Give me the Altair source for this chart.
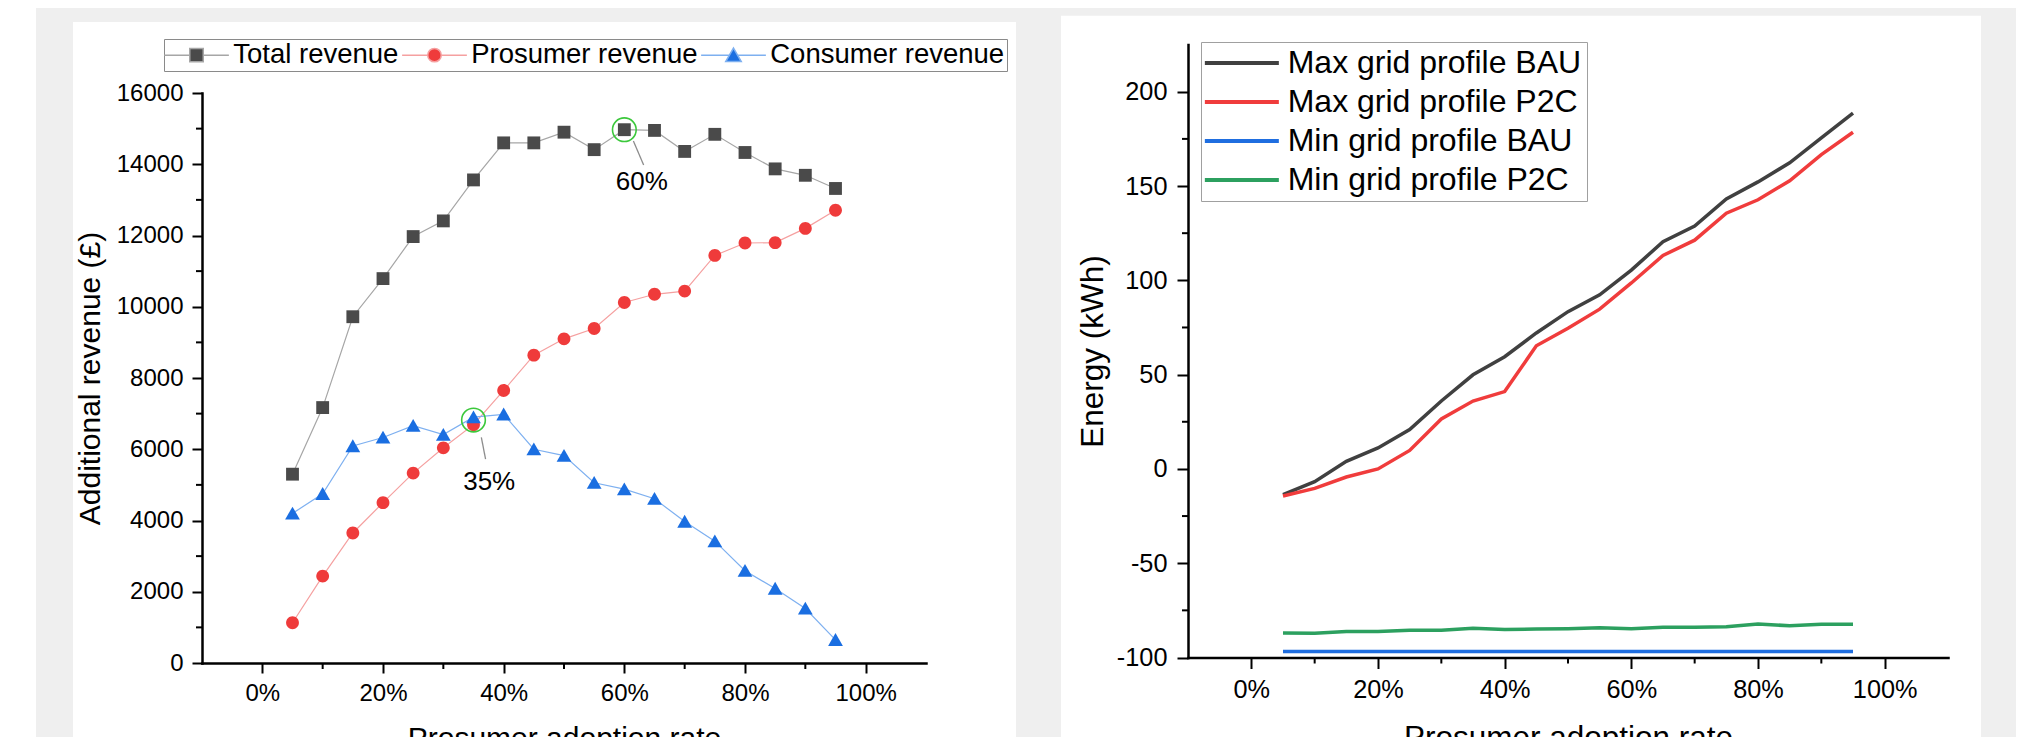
import altair as alt
import pandas as pd

FONT = "Liberation Sans"

# ---------------- data ----------------
adoption = [5, 10, 15, 20, 25, 30, 35, 40, 45, 50, 55, 60, 65, 70, 75, 80, 85, 90, 95]

series_names = ["Total revenue", "Prosumer revenue", "Consumer revenue"]
total_revenue = [5300, 7170, 9720, 10790, 11970, 12410, 13560, 14600, 14600, 14900,
                 14410, 14970, 14950, 14360, 14840, 14330, 13870, 13690, 13320]
prosumer_revenue = [1130, 2440, 3650, 4500, 5330, 6040, 6690, 7650, 8640, 9100,
                    9390, 10120, 10350, 10440, 11440, 11790, 11800, 12200, 12710]
consumer_revenue = [4200, 4750, 6090, 6330, 6660, 6410, 6900, 6980, 6000, 5820,
                    5060, 4880, 4610, 3970, 3420, 2590, 2090, 1530, 650]

profile_names = ["Max grid profile BAU", "Max grid profile P2C",
                 "Min grid profile BAU", "Min grid profile P2C"]
max_bau = [-13.6, -6.8, 4.0, 11.1, 20.9, 36.0, 49.9, 59.5, 72.1, 83.4,
           92.3, 105.4, 120.5, 128.8, 143.2, 152.2, 162.3, 175.5, 188.6]
max_p2c = [-14.4, -10.3, -4.3, 0.0, 9.8, 26.5, 36.0, 41.0, 65.3, 74.6,
           84.7, 98.6, 113.2, 121.3, 135.6, 142.7, 152.8, 166.7, 178.5]
min_bau = [-96.8, -96.8, -96.8, -96.8, -96.8, -96.8, -96.8, -96.8, -96.8, -96.8,
           -96.8, -96.8, -96.8, -96.8, -96.8, -96.8, -96.8, -96.8, -96.8]
min_p2c = [-87.0, -87.2, -86.2, -86.2, -85.5, -85.5, -84.5, -85.2, -84.9, -84.7,
           -84.2, -84.7, -84.0, -84.0, -83.7, -82.2, -83.2, -82.4, -82.4]

# annotations (left chart)
ann_circle_x = [60, 35]
ann_circle_y = [14970, 6820]
ann_lead_x1 = [61.5, 36.3]
ann_lead_y1 = [14650, 6335]
ann_lead_x2 = [63.2, 37.0]
ann_lead_y2 = [13980, 5720]
ann_text = ["60%", "35%"]
ann_text_x = [62.9, 37.6]
ann_text_y = [13500, 5090]

# axis tick values
x_major = [0, 20, 40, 60, 80, 100]
x_minor = [10, 30, 50, 70, 90]
yl_major = [0, 2000, 4000, 6000, 8000, 10000, 12000, 14000, 16000]
yl_minor = [1000, 3000, 5000, 7000, 9000, 11000, 13000, 15000]
yr_major = [-100, -50, 0, 50, 100, 150, 200]
yr_minor = [-75, -25, 25, 75, 125, 175]

# ---------------- styles ----------------
marker_colors = ["#4a4a4a", "#ef3b3b", "#1a6ee1"]
line_colors = ["#a6a6a6", "#f5a0a0", "#7eb0f0"]
marker_paths = [
    "M-1,-1H1V1H-1Z",
    "M1,0A1,1,0,1,1,-1,0A1,1,0,1,1,1,0Z",
    "M0,-1.05L1.15,0.95L-1.15,0.95Z",
]
legend_paths = [
    "M-4.8,0H-1M1,0H4.8M-1,-1H1V1H-1Z",
    "M-4.8,0H-1M1,0H4.8M1,0A1,1,0,1,1,-1,0A1,1,0,1,1,1,0Z",
    "M-4.8,0H-0.6M0.6,0H4.8M0,-1.05L1.15,0.95L-1.15,0.95Z",
]
profile_colors = ["#404040", "#f03c3c", "#1f6ee0", "#2ca05f"]

W, H = 2008, 729

rev_df = pd.DataFrame(
    [{"rate": a, "value": v, "series": n}
     for n, vals in zip(series_names, [total_revenue, prosumer_revenue, consumer_revenue])
     for a, v in zip(adoption, vals)]
)
grid_df = pd.DataFrame(
    [{"rate": a, "energy": v, "profile": n}
     for n, vals in zip(profile_names, [max_bau, max_p2c, min_bau, min_p2c])
     for a, v in zip(adoption, vals)]
)
circ_df = pd.DataFrame({"cx": ann_circle_x, "cy": ann_circle_y})
lead_df = pd.DataFrame({"x1": ann_lead_x1, "y1": ann_lead_y1, "x2": ann_lead_x2, "y2": ann_lead_y2})
text_df = pd.DataFrame({"tx": ann_text_x, "ty": ann_text_y, "t": ann_text})


# ---------------- scales (pixel ranges place the two panels) ----------------
def xl():
    return alt.Scale(domain=[-10, 110], range=[194, 918], nice=False, zero=False)


def yl():
    return alt.Scale(domain=[0, 16000], range=[655, 85], nice=False, zero=False)


def xr():
    return alt.Scale(domain=[-10, 110], range=[1180, 1940], nice=False, zero=False)


def yr():
    return alt.Scale(domain=[-100, 225], range=[649.5, 36.6], nice=False, zero=False)


common_axis = dict(
    grid=False, domainColor="black", domainWidth=2.5, domainCap="square",
    tickColor="black", tickWidth=2, labelColor="black", labelFont=FONT,
    labelFlush=False, labelOverlap=False, titleFont=FONT, titleColor="black",
    titleFontWeight="normal", zindex=2,
)

x_axis_left = alt.Axis(
    orient="bottom", offset=-74, values=x_major, labelExpr="datum.value + '%'",
    tickSize=10, labelFontSize=24, labelPadding=8,
    title="Prosumer adoption rate", titleFontSize=30, titleBaseline="top", titleY=60,
    **common_axis)
y_axis_left = alt.Axis(
    orient="left", offset=-194, values=yl_major, labelExpr="datum.value + ''",
    tickSize=10, labelFontSize=24, labelPadding=9,
    title="Additional revenue (£)", titleFontSize=30, titleX=-97,
    **common_axis)
x_axis_right = alt.Axis(
    orient="bottom", offset=-79.5, values=x_major, labelExpr="datum.value + '%'",
    tickSize=11, labelFontSize=25.3, labelPadding=8.5,
    title="Prosumer adoption rate", titleFontSize=31.5, titleBaseline="top", titleY=64.5,
    **common_axis)
y_axis_right = alt.Axis(
    orient="left", offset=-1180, values=yr_major, labelExpr="datum.value + ''",
    tickSize=11, labelFontSize=25.3, labelPadding=10,
    title="Energy (kWh)", titleFontSize=31.5, titleX=-79,
    **common_axis)

left_legend = alt.Legend(
    title=None, orient="none", legendX=156, legendY=31, direction="horizontal",
    labelFont=FONT, labelFontSize=27.5, labelColor="black", labelLimit=600,
    symbolOffset=16.75, labelOffset=23,
    symbolSize=182, symbolStrokeWidth=1.5, symbolOpacity=1, columnPadding=0, padding=2,
    strokeColor="#8a8a8a", fillColor="white", zindex=2,
)
right_legend = alt.Legend(
    title=None, orient="none", legendX=1193, legendY=34, direction="vertical",
    labelFont=FONT, labelFontSize=32, labelColor="black", labelLimit=600,
    symbolOffset=19.85, labelOffset=29.85,
    symbolType="M-3.7,0H3.7", symbolSize=400, symbolStrokeWidth=4, symbolOpacity=1,
    rowPadding=7, padding=5, strokeColor="#a0a0a0", fillColor="white", zindex=2,
)

# ---------------- background panels ----------------
one = pd.DataFrame({"k": [0]})
bg_strip = alt.Chart(one).mark_rect(color="white").encode(
    x=alt.value(0), x2=alt.value(28), y=alt.value(0), y2=alt.value(H))
bg_left = alt.Chart(one).mark_rect(color="white").encode(
    x=alt.value(65), x2=alt.value(1008), y=alt.value(14), y2=alt.value(H))
bg_right = alt.Chart(one).mark_rect(color="white").encode(
    x=alt.value(1053), x2=alt.value(1973), y=alt.value(7.7), y2=alt.value(H))

# ---------------- left chart ----------------
lines_l = alt.Chart(rev_df).mark_line(strokeWidth=1.2).encode(
    x=alt.X("rate:Q", scale=xl(), axis=x_axis_left),
    y=alt.Y("value:Q", scale=yl(), axis=y_axis_left),
    stroke=alt.Stroke("series:N", scale=alt.Scale(domain=series_names, range=line_colors), legend=None),
)
pts_l = alt.Chart(rev_df).mark_point(filled=True, opacity=1, size=165).encode(
    x=alt.X("rate:Q", scale=xl(), axis=None),
    y=alt.Y("value:Q", scale=yl(), axis=None),
    color=alt.Color("series:N", scale=alt.Scale(domain=series_names, range=marker_colors), legend=None),
    shape=alt.Shape("series:N", scale=alt.Scale(domain=series_names, range=marker_paths), legend=None),
)
# legend carrier: no marks drawn, only the line+symbol legend
legend_l = alt.Chart(rev_df).transform_filter("false").mark_point(
    filled=True, opacity=1, size=182, strokeWidth=1.5).encode(
    color=alt.Color("series:N", scale=alt.Scale(domain=series_names, range=marker_colors), legend=left_legend),
    shape=alt.Shape("series:N", scale=alt.Scale(domain=series_names, range=legend_paths), legend=left_legend),
    stroke=alt.Stroke("series:N", scale=alt.Scale(domain=series_names, range=line_colors), legend=left_legend),
)
circ_l = alt.Chart(circ_df).mark_point(shape="circle", filled=False, opacity=1, size=560,
                                      stroke="#3cc83c", strokeWidth=1.6).encode(
    x=alt.X("cx:Q", scale=xl(), axis=None), y=alt.Y("cy:Q", scale=yl(), axis=None))
lead_l = alt.Chart(lead_df).mark_rule(color="#8c8c8c", strokeWidth=1.3).encode(
    x=alt.X("x1:Q", scale=xl(), axis=None), y=alt.Y("y1:Q", scale=yl(), axis=None),
    x2="x2:Q", y2="y2:Q")
text_l = alt.Chart(text_df).mark_text(font=FONT, fontSize=26, color="black",
                                      align="center", baseline="middle").encode(
    x=alt.X("tx:Q", scale=xl(), axis=None), y=alt.Y("ty:Q", scale=yl(), axis=None), text="t:N")
minor_xl = alt.Chart(pd.DataFrame({"m": x_minor})).mark_rule(color="black", strokeWidth=2).encode(
    x=alt.X("m:Q", scale=xl(), axis=None), y=alt.value(655), y2=alt.value(661))
minor_yl = alt.Chart(pd.DataFrame({"m": yl_minor})).mark_rule(color="black", strokeWidth=2).encode(
    y=alt.Y("m:Q", scale=yl(), axis=None), x=alt.value(188), x2=alt.value(194))

# ---------------- right chart ----------------
lines_r = alt.Chart(grid_df).mark_line(strokeWidth=3.5).encode(
    x=alt.X("rate:Q", scale=xr(), axis=x_axis_right),
    y=alt.Y("energy:Q", scale=yr(), axis=y_axis_right),
    color=alt.Color("profile:N", scale=alt.Scale(domain=profile_names, range=profile_colors),
                    legend=right_legend),
)
minor_xr = alt.Chart(pd.DataFrame({"m": x_minor})).mark_rule(color="black", strokeWidth=2).encode(
    x=alt.X("m:Q", scale=xr(), axis=None), y=alt.value(649.5), y2=alt.value(655.5))
minor_yr = alt.Chart(pd.DataFrame({"m": yr_minor})).mark_rule(color="black", strokeWidth=2).encode(
    y=alt.Y("m:Q", scale=yr(), axis=None), x=alt.value(1174), x2=alt.value(1180))

chart = alt.layer(
    bg_strip, bg_left, bg_right,
    lines_l, pts_l, legend_l, circ_l, lead_l, text_l, minor_xl, minor_yl,
    lines_r, minor_xr, minor_yr,
).resolve_scale(
    x="independent", y="independent", color="independent",
    shape="independent", stroke="independent",
).properties(
    width=W, height=H, padding=0, autosize=alt.AutoSizeParams(type="none"),
).configure(background="#efefef").configure_view(strokeWidth=0)

chart.save("out.html", embed_options={"renderer": "svg", "actions": False})
